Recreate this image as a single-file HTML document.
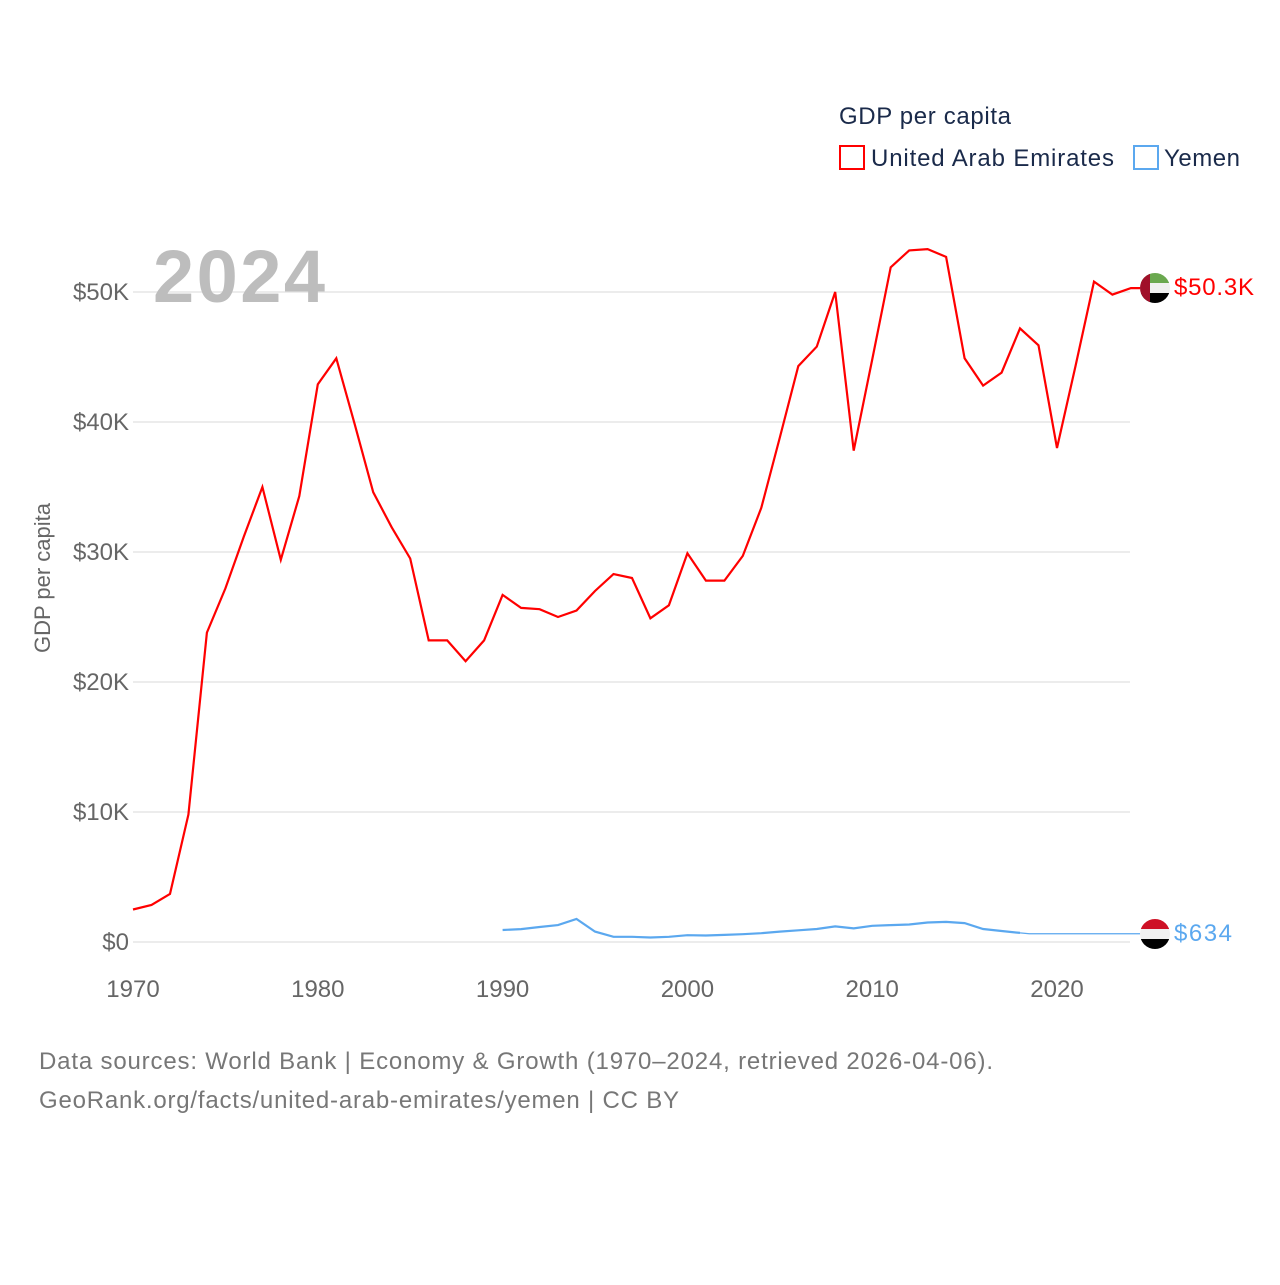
<!DOCTYPE html>
<html><head><meta charset="utf-8"><style>
body{margin:0;background:#fff;font-family:"Liberation Sans",sans-serif}
svg text{font-family:"Liberation Sans",sans-serif}
</style></head><body>
<svg width="1280" height="1280" viewBox="0 0 1280 1280">
<defs>
<clipPath id="c1"><circle cx="1155" cy="288" r="15"/></clipPath>
<clipPath id="c2"><circle cx="1155" cy="934" r="15"/></clipPath>
</defs>
<g id="grid"></g>
<g id="yt"></g>
<g id="xt"></g>
<text x="153" y="302" font-size="74" font-weight="bold" fill="#bdbdbd" textLength="172">2024</text>
<text transform="translate(50,578) rotate(-90)" text-anchor="middle" font-size="22" fill="#666">GDP per capita</text>
<path id="uae" fill="none" stroke="#ff0000" stroke-width="2.2"/>
<path id="yem" fill="none" stroke="#5ba8ef" stroke-width="2.2"/>
<path id="yemext" fill="none" stroke="#5ba8ef" stroke-width="1.2"/>
<g clip-path="url(#c1)">
<rect x="1140" y="273" width="30" height="10" fill="#6aa84f"/><rect x="1140" y="283" width="30" height="10" fill="#f0f0f0"/><rect x="1140" y="293" width="30" height="10" fill="#000"/><rect x="1140" y="273" width="10" height="30" fill="#a0102a"/></g>
<text x="1174" y="295" font-size="24" fill="#ff0000" textLength="80">$50.3K</text>
<g clip-path="url(#c2)">
<rect x="1140" y="919" width="30" height="10" fill="#ce1126"/><rect x="1140" y="929" width="30" height="10" fill="#f0f0f0"/><rect x="1140" y="939" width="30" height="10" fill="#000"/></g>
<text x="1174" y="941" font-size="24" fill="#5ba8ef" textLength="58">$634</text>
<text x="839" y="124" font-size="24" fill="#1a2a4a" textLength="172">GDP per capita</text>
<rect x="840" y="146" width="24" height="23" fill="none" stroke="#ff0000" stroke-width="2"/>
<text x="871" y="166" font-size="24" fill="#1a2a4a" textLength="243">United Arab Emirates</text>
<rect x="1134" y="146" width="24" height="23" fill="none" stroke="#5ba8ef" stroke-width="2"/>
<text x="1164" y="166" font-size="24" fill="#1a2a4a" textLength="76">Yemen</text>
<text x="39" y="1069" font-size="24" fill="#777" textLength="954">Data sources: World Bank | Economy &amp; Growth (1970–2024, retrieved 2026-04-06).</text>
<text x="39" y="1108" font-size="24" fill="#777" textLength="640">GeoRank.org/facts/united-arab-emirates/yemen | CC BY</text>
</svg>
<script>
const uaeYears=[];for(let y=1970;y<=2024;y++)uaeYears.push(y);
const uaeValues=[2.5,2.85,3.7,9.8,23.8,27.2,31.2,35,29.4,34.3,42.9,44.9,39.8,34.6,31.9,29.5,23.2,23.2,21.6,23.2,26.7,25.7,25.6,25.0,25.5,27,28.3,28,24.9,25.9,29.9,27.8,27.8,29.7,33.4,38.8,44.3,45.8,50,37.8,44.8,51.9,53.2,53.3,52.7,44.9,42.8,43.8,47.2,45.9,38,44.3,50.8,49.8,50.3];
const yemYears=[];for(let y=1990;y<=2018;y++)yemYears.push(y);
const yemValues=[0.92,0.99,1.15,1.3,1.77,0.8,0.4,0.4,0.35,0.4,0.52,0.5,0.55,0.6,0.68,0.8,0.9,1.0,1.2,1.05,1.25,1.3,1.35,1.5,1.55,1.45,1.0,0.85,0.7];
const yemLatest=0.634;
const yTicks=[0,10,20,30,40,50];
const yTickLabels=["$0","$10K","$20K","$30K","$40K","$50K"];
const xTicks=[1970,1980,1990,2000,2010,2020];
const X=y=>133+(y-1970)*18.48;
const Y=v=>942-v*13;
const NS="http://www.w3.org/2000/svg";
const grid=document.getElementById('grid'),yt=document.getElementById('yt'),xt=document.getElementById('xt');
yTicks.forEach((t,i)=>{
 const l=document.createElementNS(NS,'line');
 l.setAttribute('x1',133);l.setAttribute('x2',1130);l.setAttribute('y1',Y(t));l.setAttribute('y2',Y(t));
 l.setAttribute('stroke','#e6e6e6');l.setAttribute('stroke-width','1.5');
 
 
 grid.appendChild(l);
 const tx=document.createElementNS(NS,'text');
 tx.setAttribute('x',129);tx.setAttribute('y',Y(t)+8);tx.setAttribute('text-anchor','end');
 tx.setAttribute('font-size','24');tx.setAttribute('fill','#666');tx.textContent=yTickLabels[i];
 
 
 yt.appendChild(tx);
});
xTicks.forEach(t=>{
 const tx=document.createElementNS(NS,'text');
 tx.setAttribute('x',X(t));tx.setAttribute('y',997);tx.setAttribute('text-anchor','middle');
 tx.setAttribute('font-size','24');tx.setAttribute('fill','#666');tx.textContent=t;
 
 
 xt.appendChild(tx);
});
const path=(xs,vs)=>xs.map((y,i)=>(i?'L':'M')+X(y).toFixed(1)+','+Y(vs[i]).toFixed(1)).join('');
document.getElementById('uae').setAttribute('d',path(uaeYears,uaeValues)+'L1140,'+Y(uaeValues[uaeValues.length-1]).toFixed(1));
document.getElementById('yem').setAttribute('d',path(yemYears,yemValues));
const ly=yemYears[yemYears.length-1];
document.getElementById('yemext').setAttribute('d','M'+X(ly)+','+Y(yemValues[yemValues.length-1])+'L'+X(ly+0.5)+','+Y(yemLatest)+'L1140,'+Y(yemLatest));
</script>
</body></html>
